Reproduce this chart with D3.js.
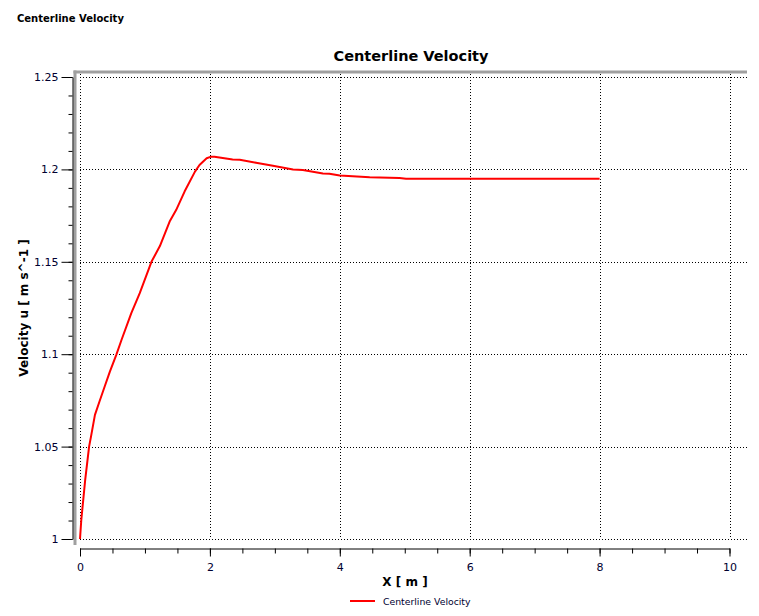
<!DOCTYPE html>
<html>
<head>
<meta charset="utf-8">
<script src="https://cdn.jsdelivr.net/npm/d3@7"></script>
<style>
  body { margin: 0; background: #fff; }
  svg { display: block; font-family: "DejaVu Sans", Verdana, sans-serif; }
</style>
</head>
<body>
<svg id="chart" width="759" height="616"></svg>
<script>
// centreline velocity
const xValues = [0, 0.02, 0.08, 0.14, 0.17, 0.23, 0.30, 0.38, 0.46, 0.56, 0.64,
  0.79, 0.92, 1.10, 1.23, 1.38, 1.48, 1.61, 1.77, 1.84, 1.95, 2.02, 2.07,
  2.35, 2.46, 2.71, 2.97, 3.28, 3.43, 3.74, 3.84, 4.0, 4.46, 4.92, 5.02, 5.5, 6.0, 7.0, 8.0]
const uValues = [1.0, 1.0104, 1.032, 1.050, 1.0555, 1.0672, 1.0744, 1.0825, 1.0906, 1.0998, 1.1078,
  1.1222, 1.1330, 1.1500, 1.1585, 1.1718, 1.1780, 1.1880, 1.1988, 1.2024, 1.2060, 1.2069, 1.2068,
  1.2053, 1.2052, 1.2036, 1.2020, 1.2000, 1.1997, 1.1978, 1.1976, 1.1967, 1.1958, 1.1954, 1.1950, 1.1950, 1.1949, 1.1949, 1.1949]

const xTicks = [0, 2, 4, 6, 8, 10]
const yTicks = [1, 1.05, 1.1, 1.15, 1.2, 1.25]
const yTickLabels = ['1', '1.05', '1.1', '1.15', '1.2', '1.25']

const chartTitle = 'Centerline Velocity'
const xTitle = 'X [ m ]'
const yTitle = 'Velocity u [ m s^-1 ]'
const seriesName = 'Centerline Velocity'

const textColor = '#000030'
const lineColor = '#ff0000'
const frameColor = '#a0a0a0'

const svg = d3.select('#chart')
const x = d3.scaleLinear().domain([0, 10]).range([80, 729.5])
const y = d3.scaleLinear().domain([1, 1.25]).range([539, 77])

// top-left caption
svg.append('text')
  .attr('x', 17).attr('y', 22)
  .attr('font-size', '10px').attr('font-weight', 'bold')
  .attr('fill', '#000')
  .text(chartTitle)

// chart title
svg.append('text')
  .attr('x', 411).attr('y', 61)
  .attr('text-anchor', 'middle')
  .attr('font-size', '14.5px').attr('font-weight', 'bold')
  .attr('fill', '#000')
  .text(chartTitle)

// gray frame on left and top
svg.append('line')
  .attr('x1', 75).attr('y1', 70.5).attr('x2', 75).attr('y2', 545)
  .attr('stroke', frameColor).attr('stroke-width', 3)
svg.append('line')
  .attr('x1', 73.5).attr('y1', 72).attr('x2', 747).attr('y2', 72)
  .attr('stroke', frameColor).attr('stroke-width', 3)

// dotted grid
const grid = svg.append('g')
grid.selectAll('.hgrid').data(yTicks).join('line')
  .attr('class', 'hgrid')
  .attr('x1', 80).attr('x2', 747)
  .attr('y1', d => Math.round(y(d)) + 0.5).attr('y2', d => Math.round(y(d)) + 0.5)
  .attr('stroke', '#000').attr('stroke-width', 1)
  .attr('stroke-dasharray', '1,2')
grid.selectAll('.vgrid').data(xTicks).join('line')
  .attr('class', 'vgrid')
  .attr('x1', d => Math.round(x(d)) + 0.5).attr('x2', d => Math.round(x(d)) + 0.5)
  .attr('y1', 74).attr('y2', 539)
  .attr('stroke', '#000').attr('stroke-width', 1)
  .attr('stroke-dasharray', '1,2')

// y axis
const yAxis = svg.append('g')
  .attr('transform', 'translate(72.5,0)')
  .call(d3.axisLeft(y).tickValues(yTicks).tickSize(11).tickSizeOuter(0).tickPadding(3)
    .tickFormat((d, i) => yTickLabels[i]))
yAxis.selectAll('.tick line').attr('stroke', '#000')
yAxis.select('.domain').attr('stroke', '#000')
yAxis.selectAll('text').attr('font-size', '11px').attr('fill', textColor)
  .attr('font-family', '"DejaVu Sans", Verdana, sans-serif')
svg.append('g')
  .attr('transform', 'translate(72.5,0)')
  .call(d3.axisLeft(y).tickValues(d3.range(1, 1.2501, 0.01)).tickSize(4).tickFormat(''))
  .call(g => g.select('.domain').remove())
  .selectAll('line').attr('stroke', '#000')

// x axis
const xAxis = svg.append('g')
  .attr('transform', 'translate(0,548.5)')
  .call(d3.axisBottom(x).tickValues(xTicks).tickSize(8).tickSizeOuter(0).tickPadding(7)
    .tickFormat(d3.format('d')))
xAxis.selectAll('.tick line').attr('stroke', '#000')
xAxis.select('.domain').attr('stroke', '#000')
xAxis.selectAll('text').attr('font-size', '11px').attr('fill', textColor)
  .attr('font-family', '"DejaVu Sans", Verdana, sans-serif')
svg.append('g')
  .attr('transform', 'translate(0,548.5)')
  .call(d3.axisBottom(x).tickValues(d3.range(0, 10.01, 0.5)).tickSize(5).tickFormat(''))
  .call(g => g.select('.domain').remove())
  .selectAll('line').attr('stroke', '#000')

// axis titles
svg.append('text')
  .attr('x', 405).attr('y', 586)
  .attr('text-anchor', 'middle')
  .attr('font-size', '12px').attr('font-weight', 'bold')
  .attr('fill', '#000')
  .text(xTitle)
svg.append('text')
  .attr('transform', 'translate(28,308) rotate(-90)')
  .attr('text-anchor', 'middle')
  .attr('font-size', '12px').attr('font-weight', 'bold')
  .attr('fill', '#000')
  .text(yTitle)

// series
const data = xValues.map((d, i) => [d, uValues[i]])
svg.append('path')
  .datum(data)
  .attr('fill', 'none')
  .attr('stroke', lineColor)
  .attr('stroke-width', 2)
  .attr('stroke-linejoin', 'round')
  .attr('d', d3.line().x(d => x(d[0])).y(d => y(d[1])))

// legend
svg.append('line')
  .attr('x1', 350).attr('x2', 375).attr('y1', 601).attr('y2', 601)
  .attr('stroke', lineColor).attr('stroke-width', 2)
svg.append('text')
  .attr('x', 383).attr('y', 605)
  .attr('font-size', '9.3px')
  .attr('fill', textColor)
  .text(seriesName)
</script>
</body>
</html>
